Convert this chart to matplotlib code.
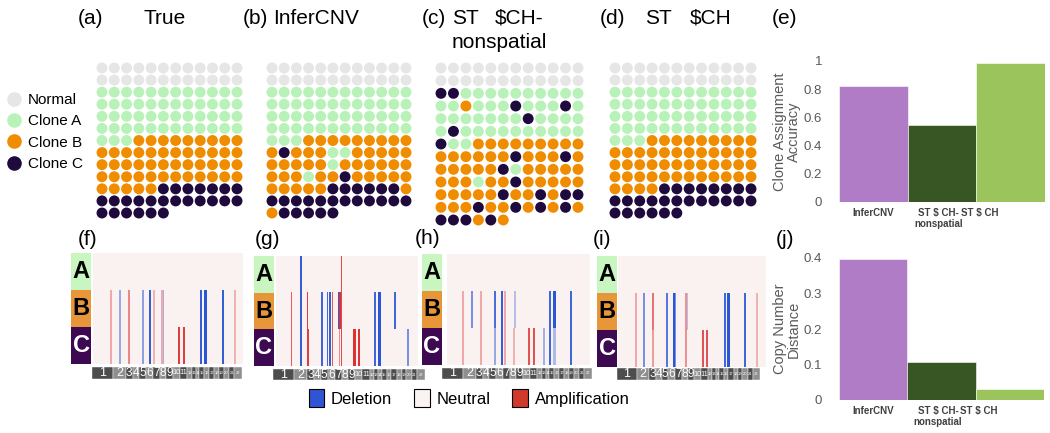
import numpy as np
import matplotlib
matplotlib.use("Agg")
import matplotlib.pyplot as plt
from matplotlib.colors import LinearSegmentedColormap
from matplotlib.patches import Patch
from matplotlib.lines import Line2D

plt.rcParams['font.family'] = ['Liberation Sans', 'DejaVu Sans']

# ------------------------------------------------------------------
# DATA
# ------------------------------------------------------------------
clone_names = ['Normal', 'Clone A', 'Clone B', 'Clone C']
clone_colors = ['#e6e6e6', '#b9f2b9', '#f08c00', '#1f0a3d']

# spot grids: 0 normal, 1 clone A, 2 clone B, 3 clone C
grid_true = ["000000000000", "000000000000",
             "111111111111", "111111111111", "111111111111", "111111111111",
             "111222222222", "222222222222", "222222222222", "222222222222",
             "222223333333", "333333333333", "333333"]
grid_infercnv = ["000000000000", "000000000000",
                 "111111111111", "111111111111", "111111111111", "111111111111",
                 "111222222222", "232221122222", "222221222222", "222122322222",
                 "222223333332", "333333333333", "233333"]
grid_nonspatial = ["000000000000", "000000000000",
                   "331111111111", "112111311131", "111111131111", "131111111111",
                   "311222222222", "222222322232", "222223122222", "222122322222",
                   "222223223233", "222322323232", "333232"]
grid_starch = ["000000000000", "000000000000",
               "111111111111", "111111111111", "111111111111", "111111111111",
               "111222222222", "222222222222", "222222222222", "222222222222",
               "222233333333", "333333333333", "333333"]

# copy number events: (start bin, n bins, clones, value  -1 deletion .. +1 amplification)
N_BINS = 150
events_true = [(17, 2, 'BC', 0.35), (26, 2, 'BC', -0.45), (35, 2, 'BC', 0.5),
               (49, 2, 'BC', -0.5), (56, 2, 'BC', -0.9), (60, 2, 'BC', 0.3),
               (68, 2, 'BC', 0.35), (70, 1, 'BC', -0.4), (85, 2, 'C', 0.85),
               (90, 2, 'C', 0.85), (107, 2, 'BC', -0.9), (111, 3, 'BC', -0.95),
               (129, 2, 'BC', -0.9), (141, 2, 'BC', 0.3)]
events_infercnv = [(16, 1, 'BC', 0.7), (25, 2, 'ABC', -0.9), (33, 1, 'B', 0.85),
                   (33, 2, 'C', 0.85), (48, 2, 'BC', -0.85), (54, 1, 'BC', -0.85),
                   (56, 2, 'BC', -0.9), (59, 1, 'BC', 0.7), (66, 1, 'B', -0.9),
                   (67, 2, 'B', 0.9), (67, 1, 'C', 0.5), (69, 1, 'ABC', 0.8),
                   (81, 3, 'C', 0.9), (87, 2, 'C', 0.9), (104, 2, 'BC', -0.85),
                   (108, 3, 'BC', -0.95), (125, 2, 'B', -0.85), (138, 2, 'C', -0.6),
                   (140, 1, 'A', 0.85)]
events_nonspatial = [(16, 2, 'BC', 0.35), (25, 2, 'B', -0.6), (35, 2, 'BC', 0.35),
                     (49, 2, 'B', -0.8), (49, 2, 'C', -0.45), (57, 2, 'BC', -0.9),
                     (60, 2, 'BC', 0.35), (70, 2, 'B', -0.3), (69, 2, 'C', 0.3),
                     (85, 2, 'C', 0.75), (90, 2, 'C', 0.75), (101, 2, 'C', -0.4),
                     (107, 2, 'BC', -0.85), (111, 3, 'B', -0.95), (111, 3, 'C', -0.35),
                     (129, 2, 'BC', -0.85)]
events_starch = [(17, 2, 'BC', 0.35), (25, 2, 'BC', -0.6), (34, 2, 'B', 0.6),
                 (34, 2, 'C', 0.4), (49, 2, 'BC', -0.75), (56, 2, 'BC', -0.95),
                 (58, 1, 'BC', -0.6), (68, 2, 'BC', 0.45), (70, 1, 'B', -0.3),
                 (85, 2, 'C', 0.75), (89, 2, 'C', 0.75), (107, 2, 'BC', -0.85),
                 (110, 4, 'BC', -0.95), (128, 2, 'BC', -0.85), (140, 2, 'BC', 0.3)]

chrom_labels = [str(i) for i in range(1, 23)]
chrom_sizes = [63, 38, 20, 20, 20, 22, 20, 18, 20, 22, 22,
               14, 11, 11, 14, 14, 16, 14, 14, 16, 16, 23]

methods = ['InferCNV', 'ST \\$ CH-\nnonspatial', 'ST \\$ CH']
accuracy = [0.82, 0.545, 0.985]
cn_distance = [0.397, 0.108, 0.031]
method_colors = ['#b07cc6', '#375623', '#9bc55c']

# ------------------------------------------------------------------
# FIGURE
# ------------------------------------------------------------------
W, H = 1050, 433
fig = plt.figure(figsize=(W / 100, H / 100), dpi=100)


def rect(x0, y0, x1, y1):
    return [x0 / W, 1 - y1 / H, (x1 - x0) / W, (y1 - y0) / H]


def draw_grid(rows, cx0, cx1, cy0, cy1):
    dx = (cx1 - cx0) / 11
    dy = (cy1 - cy0) / 12
    ax = fig.add_axes(rect(cx0 - dx / 2, cy0 - dy / 2, cx1 + dx / 2, cy1 + dy / 2))
    xs, ys, cs = [], [], []
    for r, row in enumerate(rows):
        for c, ch in enumerate(row):
            xs.append(c)
            ys.append(r)
            cs.append(clone_colors[int(ch)])
    ax.scatter(xs, ys, c=cs, s=62, linewidths=0)
    ax.set_xlim(-0.5, 11.5)
    ax.set_ylim(12.5, -0.5)
    ax.axis('off')


draw_grid(grid_true, 102, 237, 68, 213)
draw_grid(grid_infercnv, 272, 406, 68, 213)
draw_grid(grid_nonspatial, 441, 578, 68, 220)
draw_grid(grid_starch, 615, 751, 68, 213)

# titles
TFS = 15
for x, y, s in [(78, 18, '(a)'), (143, 18, 'True'), (243, 18, '(b)'), (273, 18, 'InferCNV'),
                (422, 18, '(c)'), (452, 18, 'ST'), (495, 18, '\\$CH-'), (452, 43, 'nonspatial'),
                (600, 18, '(d)'), (645, 18, 'ST'), (690, 18, '\\$CH'), (772, 18, '(e)')]:
    fig.text(x / W, 1 - y / H, s, fontsize=TFS, ha='left', va='center')

for x, y, s in [(88, 240, '(f)'), (267, 240, '(g)'), (428, 238, '(h)'),
                (602, 240, '(i)'), (785, 240, '(j)')]:
    fig.text(x / W, 1 - y / H, s, fontsize=TFS, ha='center', va='center')

# clone legend
clone_handles = [Line2D([], [], marker='o', ls='', markersize=10.5,
                        markerfacecolor=c, markeredgewidth=0) for c in clone_colors]
fig.legend(clone_handles, clone_names, loc='upper left',
           bbox_to_anchor=(6 / W, 1 - 93 / H), frameon=False, fontsize=11,
           handlelength=1.0, handletextpad=0.45, labelspacing=0.48,
           borderpad=0, borderaxespad=0)

# ------------------------------------------------------------------
# COPY NUMBER HEATMAPS
# ------------------------------------------------------------------
cnv_cmap = LinearSegmentedColormap.from_list('cnv', ['#1f4fd6', '#fbf2f2', '#dc1f1f'])
label_colors = ['#c8f5c0', '#e8963a', '#3d0a52']
letter_colors = ['black', 'black', 'white']


def cnv_matrix(events):
    m = np.zeros((3, N_BINS))
    for start, width, rows, val in events:
        for r in rows:
            m['ABC'.index(r), start:start + width] = val
    return m


def draw_cnv(events, lab, hm, chrom):
    axl = fig.add_axes(rect(*lab))
    axl.barh([0, 1, 2], 1, height=1, left=0, color=label_colors)
    for i, t in enumerate('ABC'):
        axl.text(0.5, i, t, color=letter_colors[i], fontsize=17, fontweight='bold',
                 ha='center', va='center')
    axl.set_xlim(0, 1)
    axl.set_ylim(2.5, -0.5)
    axl.axis('off')

    axh = fig.add_axes(rect(*hm))
    axh.imshow(cnv_matrix(events), cmap=cnv_cmap, vmin=-1, vmax=1,
               aspect='auto', interpolation='nearest')
    axh.axis('off')

    axc = fig.add_axes(rect(*chrom))
    starts = np.concatenate([[0], np.cumsum(chrom_sizes)[:-1]])
    shades = ['#4d4d4d' if i % 2 == 0 else '#8f8f8f' for i in range(len(chrom_sizes))]
    axc.barh(0, chrom_sizes, left=starts, height=1, color=shades,
             edgecolor='white', linewidth=0.3)
    for i, (s, w) in enumerate(zip(starts, chrom_sizes)):
        fs = 9 if i < 2 else (8.5 if i < 9 else (5.3 if i < 11 else 3.0))
        axc.text(s + w / 2, 0, chrom_labels[i], color='white', fontsize=fs,
                 ha='center', va='center')
    axc.set_xlim(0, sum(chrom_sizes))
    axc.set_ylim(-0.5, 0.5)
    axc.axis('off')


draw_cnv(events_true, (71, 253, 91, 364), (93, 253, 243, 364), (92, 367, 242, 379))
draw_cnv(events_infercnv, (254, 256, 274, 366), (276, 256, 418, 366), (273, 369, 425, 380))
draw_cnv(events_nonspatial, (422, 254, 442, 365), (447, 254, 590, 365), (442, 368, 592, 379))
draw_cnv(events_starch, (597, 256, 617, 367), (618, 256, 766, 367), (617, 368, 760, 380))

cnv_handles = [Patch(facecolor=c, edgecolor='black', linewidth=0.8)
               for c in ['#2f55d4', '#fbf2f2', '#d0392b']]
fig.legend(cnv_handles, ['Deletion', 'Neutral', 'Amplification'], ncol=3,
           loc='center', bbox_to_anchor=(469 / W, 1 - 398 / H), frameon=False,
           fontsize=12, handlelength=0.95, handleheight=1.3, handletextpad=0.4,
           columnspacing=1.3, borderpad=0)

# ------------------------------------------------------------------
# BAR CHARTS
# ------------------------------------------------------------------
label_pos = [0, 0.95, 1.55]


def draw_bars(values, box, ymax, yticks, ylabel):
    ax = fig.add_axes(rect(*box))
    ax.bar(range(len(values)), values, width=1.0, color=method_colors,
           edgecolor='white', linewidth=0.4)
    ax.set_xlim(-0.5, 2.5)
    ax.set_ylim(0, ymax)
    ax.set_yticks(yticks)
    ax.set_yticklabels([f'{t:g}' for t in yticks])
    ax.set_xticks(label_pos)
    ax.set_xticklabels(methods, fontsize=7, fontweight='bold', color='#404040', va='top')
    ax.tick_params(axis='y', length=0, pad=12, labelsize=9.5, labelcolor='#595959')
    ax.tick_params(axis='x', length=0, pad=4)
    ax.set_ylabel(ylabel, fontsize=10.5, color='#595959', labelpad=2, linespacing=1.0)
    for sp in ax.spines.values():
        sp.set_visible(False)
    return ax


draw_bars(accuracy, (839, 61, 1045, 202), 1.0, [0, 0.2, 0.4, 0.6, 0.8, 1.0],
          'Clone Assignment\nAccuracy')
draw_bars(cn_distance, (839, 258, 1044, 400), 0.4, [0, 0.1, 0.2, 0.3, 0.4],
          'Copy Number\nDistance')

fig.savefig('out.png', dpi=100)
